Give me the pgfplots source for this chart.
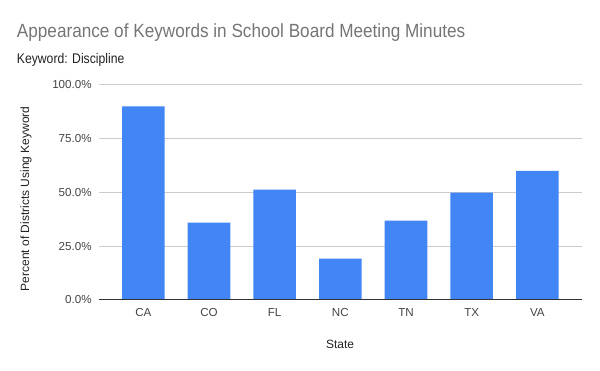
\documentclass[border=0pt]{standalone}
\usepackage{fontspec}
\setmainfont{Liberation Sans}
\newfontfamily\titlefont[FakeStretch=0.9]{Liberation Sans}
\newfontfamily\subtitlefont[FakeStretch=0.87]{Liberation Sans}
\usepackage{pgfplots}
\pgfplotsset{compat=1.18}
\definecolor{barblue}{HTML}{4285F4}
\definecolor{gridgray}{HTML}{CCCCCC}
\definecolor{axisdark}{HTML}{333333}
\definecolor{titlegray}{HTML}{757575}
\definecolor{ticktext}{HTML}{444444}
\definecolor{labeltext}{HTML}{222222}
\begin{document}
\begin{tikzpicture}[x=0.75pt,y=0.75pt]
\useasboundingbox (0,0) rectangle (600,371);
\node[anchor=base west, inner sep=0, text=titlegray, font=\titlefont\fontsize{14.3}{16}\selectfont] at (16.7,333.7) {Appearance of Keywords in School Board Meeting Minutes};
\node[anchor=base west, inner sep=0, text=labeltext, font=\subtitlefont\fontsize{10.5}{12}\selectfont] at (16.7,307.7) {Keyword: Discipline};
\begin{axis}[
  at={(74.25pt,53.25pt)}, anchor=south west,
  scale only axis, width=362.25pt, height=161.25pt,
  xmin=-0.675, xmax=6.68, ymin=0, ymax=100,
  xtick={0,1,2,3,4,5,6},
  xticklabels={CA,CO,FL,NC,TN,TX,VA},
  ytick={0,25,50,75,100},
  yticklabels={0.0\%,25.0\%,50.0\%,75.0\%,100.0\%},
  axis line style={draw=none},
  tick style={draw=none},
  major tick length=0pt,
  ymajorgrids,
  grid style={gridgray, line width=0.75pt},
  ticklabel style={text=ticktext, font=\fontsize{8.7}{10}\selectfont},
  xticklabel style={yshift=-3pt},
  yticklabel style={xshift=-2pt},
  xlabel={State},
  ylabel={Percent of Districts Using Keyword},
  label style={text=labeltext, font=\fontsize{9}{11}\selectfont},
  xlabel style={at={(axis description cs:0.499,-0.205)}, anchor=center},
  ylabel style={at={(axis description cs:-0.151,0.471)}, anchor=center, rotate=0},
  /pgf/number format/assume math mode=true,
  clip=false,
]
\addplot[ybar, bar width=31.9pt, fill=barblue, draw=none] coordinates {
 (0,90.0) (1,36.0) (2,51.3) (3,19.2) (4,36.9) (5,49.9) (6,60.1)
};
\draw[axisdark, line width=0.75pt] (axis cs:-0.675,0) -- (axis cs:6.68,0);
\end{axis}
\end{tikzpicture}
\end{document}
